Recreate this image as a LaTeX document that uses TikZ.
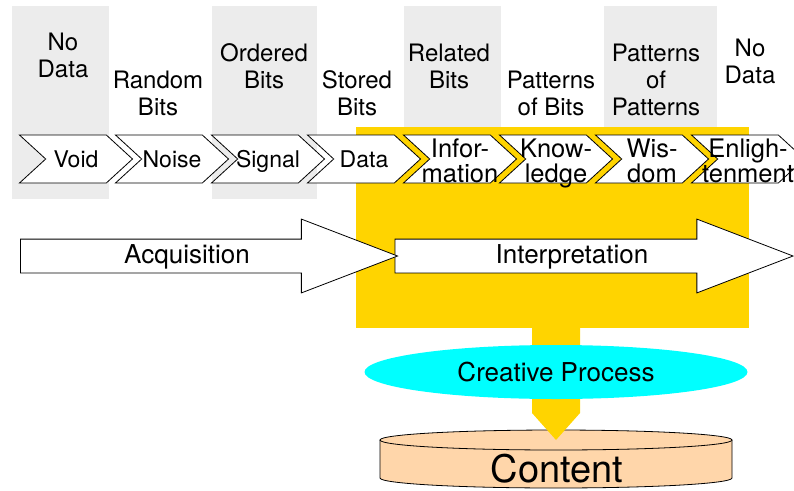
\documentclass[tikz,border=0pt]{standalone}
\usepackage{fontspec}
\setmainfont{TeX Gyre Heros}
\usepackage{tikz}
\usetikzlibrary{calc,shapes,shapes.symbols,shapes.arrows,shapes.geometric}
\definecolor{gold}{RGB}{255,212,0}
\definecolor{colgray}{RGB}{236,236,236}
\definecolor{peach}{RGB}{255,214,170}
\definecolor{aqua}{RGB}{0,255,255}
\tikzset{
   chev/.style={signal, signal from=west, signal to=east, signal pointer angle=85,
                draw=black, fill=white, line width=0.8pt, inner sep=0pt,
                minimum width=113pt, minimum height=48pt},
   chevtext/.style={font=\fontsize{23}{25}\selectfont, text height=16pt, text depth=0pt, inner sep=0pt},
   chevtwo/.style={font=\fontsize{25.5}{25}\selectfont, align=center, yshift=-2pt, inner sep=0pt},
   bigarrow/.style={single arrow, draw=black, fill=white, line width=0.8pt, inner sep=0pt,
                text height=33pt, text depth=0pt,
                minimum width=73pt, single arrow head extend=20pt, single arrow tip angle=42},
   arrowtext/.style={font=\fontsize{26}{30}\selectfont, text height=18pt, text depth=3pt,
                inner sep=0pt}
}

\begin{document}
\begin{tikzpicture}[x=1pt,y=-1pt,
                    toplbl/.style={font=\fontsize{24}{27}\selectfont, align=center,
                                   anchor=base, inner sep=0pt}]
\useasboundingbox (0,0) rectangle (794,490);
% columns
\fill[colgray] (12,6) rectangle (109,199);
\fill[colgray] (212,6) rectangle (317,199);
\fill[colgray] (404,6) rectangle (501,199);
\fill[colgray] (604,6) rectangle (717,199);
%
\node[toplbl] (nodataA) at (63,77)   {No\\Data};
\node[toplbl] (random)  at (158,115) {Random\\Bits};
\node[toplbl] (ordered) at (264,88)  {Ordered\\Bits};
\node[toplbl] (stored)  at (357,115) {Stored\\Bits};
\node[toplbl] (related) at (449,88)  {Related\\Bits};
\node[toplbl] (patbits) at (551,115) {Patterns\\of Bits};
\node[toplbl] (patpat)  at (656,115) {Patterns\\of\\Patterns};
\node[toplbl] (nodataB) at (750,83)  {No\\Data};
%
\node[fill=gold, inner sep=0pt, minimum width=393pt, minimum height=201pt] (ibox) at (552.5,227.5) {};
%
\node[chev, label={[chevtext]center:Void}]   (void)   at (76,159) {};
\node[chev, label={[chevtext]center:Noise}]  (noise)  at ($ (void) + (96,0) $) {};
\node[chev, label={[chevtext]center:Signal}] (signal) at ($ (noise) + (96,0) $) {};
\node[chev, label={[chevtext]center:Data}]   (data)   at ($ (signal) + (96,0) $) {};
\node[chev, label={[chevtwo]center:{Infor-\\mation}}]    (info)   at ($ (data) + (96,0) $) {};
\node[chev, label={[chevtwo,yshift=-2.5pt]center:{Know-\\ledge}}] (know) at ($ (info) + (96,0) $) {};
\node[chev, label={[chevtwo]center:{Wis-\\dom}}]         (wisdom) at ($ (know) + (96,0) $) {};
\node[chev, label={[chevtwo]center:{Enligh-\\tenment}}]  (enlight) at ($ (wisdom) + (96,0) $) {};
%
\node[bigarrow, minimum height=398pt, label={[arrowtext]center:Interpretation}] (interp) at (572,256) {};
\node[bigarrow, minimum height=377pt, label={[arrowtext]center:Acquisition}]    (acq)    at (187,256) {};
%
\fill[peach] (380,440) -- (380,478) arc[start angle=180, end angle=0, x radius=176, y radius=10]
   -- (732,440) -- cycle;
\draw[line width=0.8pt] (380,440) -- (380,478) arc[start angle=180, end angle=0, x radius=176, y radius=10]
   -- (732,440);
\draw[line width=0.8pt, fill=peach] (556,440) ellipse [x radius=176, y radius=10];
\node[font=\fontsize{38}{42}\selectfont, inner sep=0pt] (content) at (557,469) {Content};
\coordinate (top) at (556,440);
%
\fill[gold] ($ (top) + (-24,-113) $) -- ($ (top) + (24,-113) $) -- ($ (top) + (24,-27) $)
   -- (top) -- ($ (top) + (-24,-27) $) -- cycle;
\node[ellipse, fill=aqua, inner sep=0pt, minimum width=383pt, minimum height=54pt,
      font=\fontsize{26}{30}\selectfont] (creative) at (556,372) {Creative Process};
\end{tikzpicture}
\end{document}
